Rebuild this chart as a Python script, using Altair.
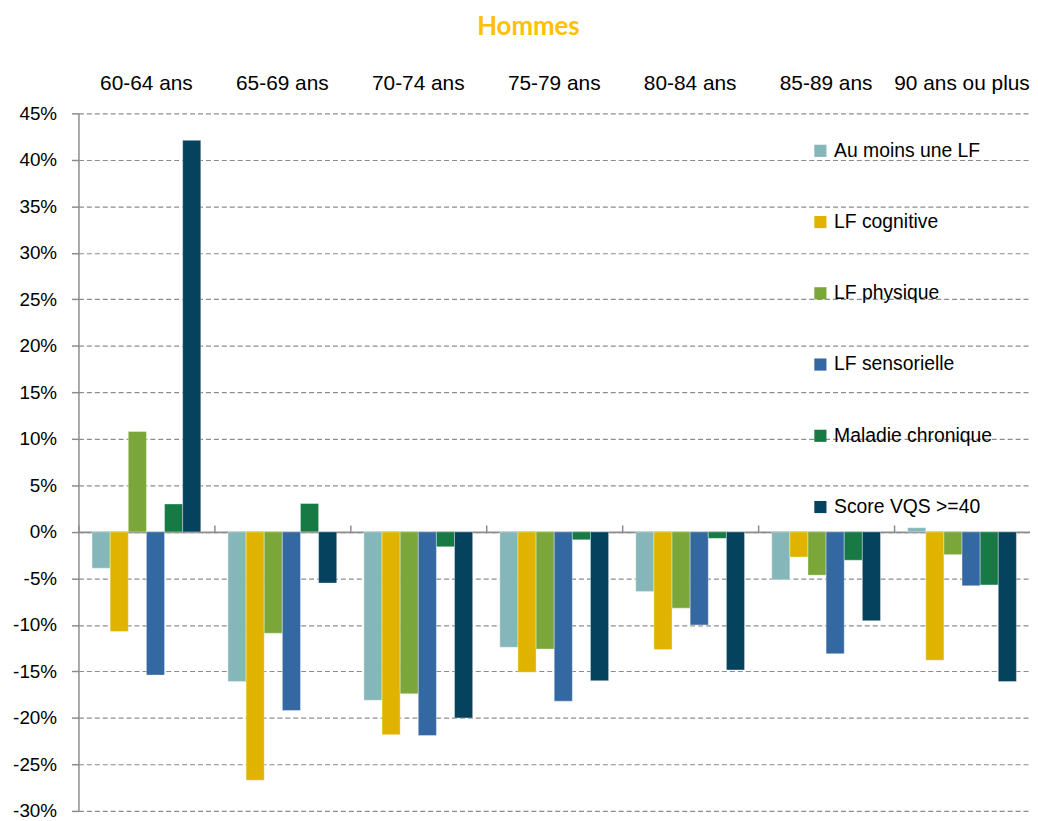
import altair as alt
import pandas as pd

ages = ["60-64 ans", "65-69 ans", "70-74 ans", "75-79 ans", "80-84 ans", "85-89 ans", "90 ans ou plus"]
series = ["Au moins une LF", "LF cognitive", "LF physique", "LF sensorielle", "Maladie chronique", "Score VQS >=40"]
colors = ["#84B6BA", "#E0B300", "#7BA639", "#3468A3", "#177A44", "#05425E"]

au_moins = [-3.9, -16.1, -18.1, -12.4, -6.4, -5.15, 0.45]
cognitive = [-10.7, -26.7, -21.8, -15.1, -12.65, -2.7, -13.8]
physique = [10.8, -10.9, -17.4, -12.6, -8.2, -4.65, -2.45]
sensorielle = [-15.4, -19.2, -21.9, -18.2, -10.0, -13.1, -5.8]
maladie = [3.0, 3.05, -1.6, -0.85, -0.7, -3.05, -5.7]
vqs = [42.1, -5.5, -20.0, -16.0, -14.85, -9.55, -16.1]

values = [au_moins, cognitive, physique, sensorielle, maladie, vqs]
rows = []
for s, vals in zip(series, values):
    for a, v in zip(ages, vals):
        rows.append({"age": a, "serie": s, "val": v})
df = pd.DataFrame(rows)

W, H = 959, 703
zero_px = H * 45 / 75

xscale = alt.Scale(domain=ages, paddingInner=0, paddingOuter=0)
yscale = alt.Scale(domain=[-30, 45], nice=False, zero=False)

base = alt.Chart(df)

bars = base.mark_bar(stroke="#ffffff", strokeWidth=0.6, strokeOpacity=0.6).encode(
    x=alt.X("age:N", sort=ages, scale=xscale,
            axis=alt.Axis(orient="top", title=None, ticks=False, domain=False,
                          labelAngle=0, labelFontSize=21, labelFont="Liberation Sans Narrow, Liberation Sans",
                          labelColor="#000000", labelPadding=20)),
    xOffset=alt.XOffset("serie:N", sort=series, scale=alt.Scale(domain=series, paddingOuter=0.75, paddingInner=0)),
    y=alt.Y("val:Q", scale=yscale,
            axis=alt.Axis(title=None, values=list(range(-30, 50, 5)), labelExpr="datum.value + '%'",
                          labelFontSize=19, labelFont="Liberation Sans", labelColor="#000000",
                          labelPadding=15, tickSize=7, tickColor="#8c8c8c", tickWidth=1.5,
                          domainColor="#8c8c8c", domainWidth=1.5,
                          grid=True, gridColor="#8c8c8c", gridDash=[5, 3], gridWidth=1.2)),
    color=alt.Color("serie:N", sort=series, scale=alt.Scale(domain=series, range=colors),
                    legend=alt.Legend(title=None, orient="none", legendX=738, legendY=28,
                                      symbolType="square", symbolSize=150, symbolStrokeWidth=0,
                                      labelFontSize=19.5, labelFont="Liberation Sans", labelColor="#000000",
                                      labelOffset=4, rowPadding=50.8, padding=0)),
)

zero_axis = base.mark_rule(opacity=0).encode(
    x=alt.X("age:N", sort=ages, scale=xscale,
            axis=alt.Axis(orient="top", title=None, labels=False, ticks=True, tickSize=7,
                          tickColor="#8c8c8c", tickWidth=1.5, bandPosition=0,
                          domain=True, domainColor="#8c8c8c", domainWidth=1.8,
                          offset=-zero_px, grid=False)),
    y=alt.datum(0),
)

chart = alt.layer(bars, zero_axis).resolve_axis(x="independent").properties(
    width=W, height=H,
    autosize=alt.AutoSizeParams(type="none"),
    padding={"left": 71, "top": 103, "right": 0, "bottom": 7},
    title=alt.TitleParams("Hommes", font="Lato", fontSize=26, fontWeight="bold",
                          color="#FFC000", anchor="middle", offset=33, dx=-26),
).configure_view(stroke=None)

chart.save("out.html", embed_options={"renderer": "svg", "actions": False})
